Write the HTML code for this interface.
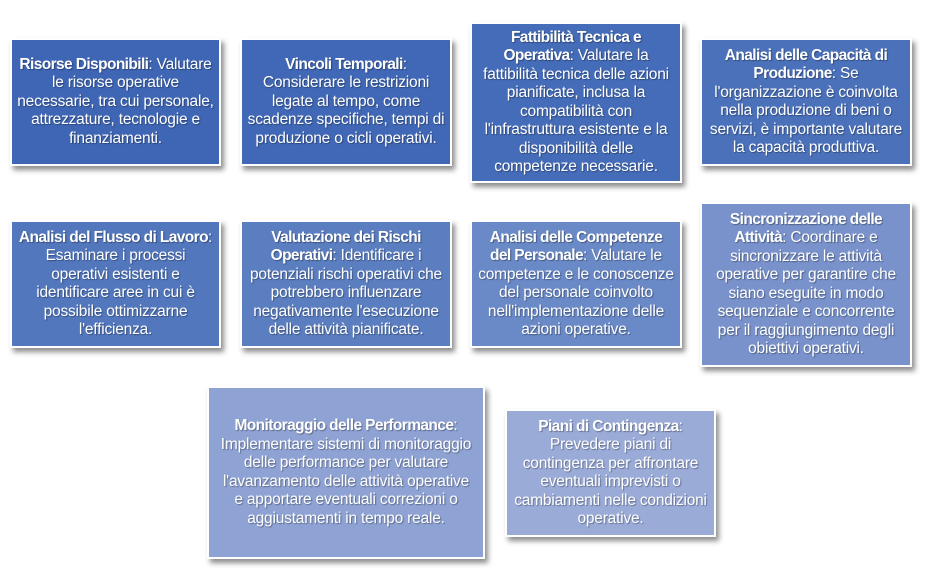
<!DOCTYPE html>
<html><head><meta charset="utf-8"><style>
body{margin:0;width:935px;height:581px;background:#fff;position:relative;overflow:hidden;font-family:"Liberation Sans",sans-serif;}
.b{position:absolute;box-sizing:border-box;border:2px solid #fff;box-shadow:3px 4px 5px rgba(0,0,0,.45);color:#fff;font-size:15.5px;line-height:18.5px;text-align:center;display:flex;align-items:center;justify-content:center;padding:0;text-shadow:1px 1px 1px rgba(0,0,0,.35);letter-spacing:-0.2px;white-space:nowrap}
b{font-weight:bold;letter-spacing:-0.6px}
</style></head><body>
<div class="b" style="left:10px;top:38px;width:211px;height:128px;background:#3f66b5"><div><b>Risorse Disponibili</b>: Valutare<br>le risorse operative<br>necessarie, tra cui personale,<br>attrezzature, tecnologie e<br>finanziamenti.</div></div>
<div class="b" style="left:240px;top:38px;width:212px;height:128px;background:#4168b6"><div><b>Vincoli Temporali</b>:<br>Considerare le restrizioni<br>legate al tempo, come<br>scadenze specifiche, tempi di<br>produzione o cicli operativi.</div></div>
<div class="b" style="left:470px;top:22px;width:212px;height:161px;background:#456cb8"><div><b>Fattibilità Tecnica e<br>Operativa</b>: Valutare la<br>fattibilità tecnica delle azioni<br>pianificate, inclusa la<br>compatibilità con<br>l'infrastruttura esistente e la<br>disponibilità delle<br>competenze necessarie.</div></div>
<div class="b" style="left:700px;top:38px;width:212px;height:128px;background:#4b71ba"><div><b>Analisi delle Capacità di<br>Produzione</b>: Se<br>l'organizzazione è coinvolta<br>nella produzione di beni o<br>servizi, è importante valutare<br>la capacità produttiva.</div></div>
<div class="b" style="left:10px;top:220px;width:211px;height:128px;background:#5277bd"><div><b>Analisi del Flusso di Lavoro</b>:<br>Esaminare i processi<br>operativi esistenti e<br>identificare aree in cui è<br>possibile ottimizzarne<br>l'efficienza.</div></div>
<div class="b" style="left:240px;top:220px;width:212px;height:128px;background:#5b7ec1"><div><b>Valutazione dei Rischi<br>Operativi</b>: Identificare i<br>potenziali rischi operativi che<br>potrebbero influenzare<br>negativamente l'esecuzione<br>delle attività pianificate.</div></div>
<div class="b" style="left:470px;top:220px;width:212px;height:128px;background:#6a89c7"><div><b>Analisi delle Competenze<br>del Personale</b>: Valutare le<br>competenze e le conoscenze<br>del personale coinvolto<br>nell'implementazione delle<br>azioni operative.</div></div>
<div class="b" style="left:700px;top:202px;width:212px;height:165px;background:#7992cb"><div><b>Sincronizzazione delle<br>Attività</b>: Coordinare e<br>sincronizzare le attività<br>operative per garantire che<br>siano eseguite in modo<br>sequenziale e concorrente<br>per il raggiungimento degli<br>obiettivi operativi.</div></div>
<div class="b" style="left:207px;top:386px;width:278px;height:173px;background:#8ea2d3"><div><b>Monitoraggio delle Performance</b>:<br>Implementare sistemi di monitoraggio<br>delle performance per valutare<br>l'avanzamento delle attività operative<br>e apportare eventuali correzioni o<br>aggiustamenti in tempo reale.</div></div>
<div class="b" style="left:505px;top:409px;width:211px;height:128px;background:#9aabd8"><div><b>Piani di Contingenza</b>:<br>Prevedere piani di<br>contingenza per affrontare<br>eventuali imprevisti o<br>cambiamenti nelle condizioni<br>operative.</div></div>
</body></html>
